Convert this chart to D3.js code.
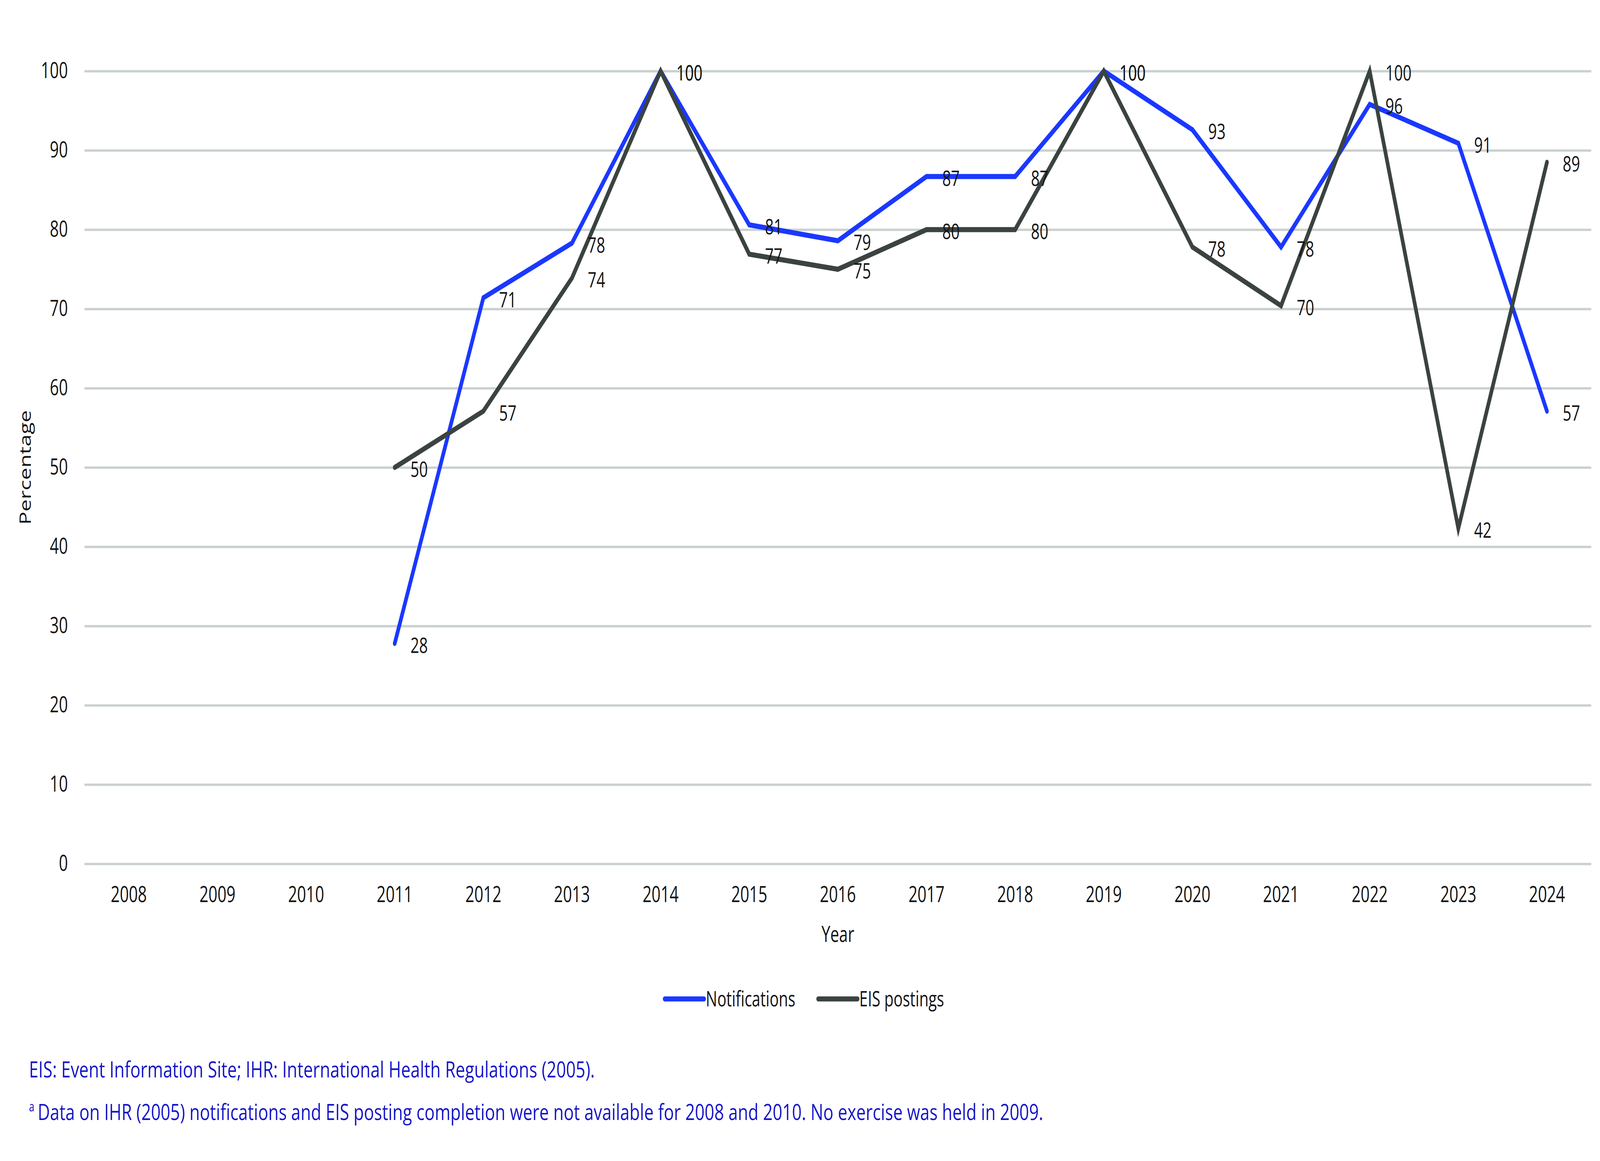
<!DOCTYPE html>
<html>
<head>
<meta charset="utf-8">
<script src="https://cdn.jsdelivr.net/npm/d3@7"></script>
<style>
  html, body { margin: 0; padding: 0; background: #fff; overflow: hidden; }
  svg { display: block; width: 100vw; height: 100vh; }
</style>
</head>
<body>
<svg id="chart" viewBox="0 0 5681 2973" preserveAspectRatio="none"></svg>
<script>
// data
var years = ['2008', '2009', '2010', '2011', '2012', '2013', '2014', '2015', '2016', '2017', '2018', '2019', '2020', '2021', '2022', '2023', '2024'];
var notifications = [null, null, null, 27.8, 71.4, 78.3, 100, 80.6, 78.6, 86.7, 86.7, 100, 92.6, 77.8, 95.8, 90.9, 57.1];
var eisPostings = [null, null, null, 50, 57.1, 73.9, 100, 76.9, 75, 80, 80, 100, 77.8, 70.4, 100, 42.3, 88.5];
var yTicks = [0, 10, 20, 30, 40, 50, 60, 70, 80, 90, 100];
var seriesNames = ['Notifications', 'EIS postings'];
var seriesColors = ['#1a38ff', '#3b4341'];

var notes = [
    'EIS: Event Information Site; IHR: International Health Regulations (2005).',
    'Data on IHR (2005) notifications and EIS posting completion were not available for 2008 and 2010. No exercise was held in 2009.'
];

const svg = d3.select('#chart');
const font = '"Open Sans", "Noto Sans", sans-serif';
const textColor = '#141414';

const plotLeft = 300, plotRight = 5650, plotTop = 182, plotBottom = 2212;

const x = d3.scaleBand()
    .domain(years)
    .range([plotLeft, plotRight]);

const y = d3.scaleLinear()
    .domain([0, 100])
    .range([plotBottom, plotTop]);

// gridlines + y labels
const yAxis = svg.append('g')
    .attr('transform', `translate(${plotLeft},0)`)
    .call(d3.axisLeft(y).tickValues(yTicks).tickSize(-(plotRight - plotLeft)).tickPadding(59));
yAxis.select('.domain').remove();
yAxis.selectAll('line')
    .attr('stroke', '#c9d1cf')
    .attr('stroke-width', 6);
yAxis.selectAll('text')
    .attr('font-family', font)
    .attr('font-size', 56)
    .attr('fill', textColor);

// year labels
const xAxis = svg.append('g')
    .attr('transform', `translate(0,${plotBottom})`)
    .call(d3.axisBottom(x).tickSize(0).tickPadding(58));
xAxis.select('.domain').remove();
xAxis.selectAll('text')
    .attr('font-family', font)
    .attr('font-size', 56)
    .attr('fill', textColor);

// axis titles
svg.append('text')
    .attr('x', (plotLeft + plotRight) / 2)
    .attr('y', 2412)
    .attr('text-anchor', 'middle')
    .attr('font-family', font)
    .attr('font-size', 56)
    .attr('fill', textColor)
    .text('Year');

svg.append('text')
    .attr('transform', `translate(110,${(plotTop + plotBottom) / 2}) rotate(-90)`)
    .attr('text-anchor', 'middle')
    .attr('font-family', font)
    .attr('font-size', 56)
    .attr('fill', textColor)
    .text('Percentage');

// lines
const allSeries = [notifications, eisPostings];
const line = d3.line()
    .defined(function(d) { return d.v !== null; })
    .x(function(d) { return x(d.year) + x.bandwidth() / 2; })
    .y(function(d) { return y(d.v); });

allSeries.forEach(function(values, i) {
    const pts = years.map(function(yr, j) { return { year: yr, v: values[j] }; });
    svg.append('path')
        .datum(pts)
        .attr('d', line)
        .attr('fill', 'none')
        .attr('stroke', seriesColors[i])
        .attr('stroke-width', 13)
        .attr('stroke-linejoin', 'miter')
        .attr('stroke-linecap', 'round');
});

// value labels
allSeries.forEach(function(values, i) {
    const pts = years.map(function(yr, j) { return { year: yr, v: values[j] }; })
        .filter(function(d) { return d.v !== null; });
    svg.append('g').selectAll('text')
        .data(pts)
        .enter()
        .append('text')
        .attr('x', function(d) { return x(d.year) + x.bandwidth() / 2 + 56; })
        .attr('y', function(d) { return y(d.v) + 24; })
        .attr('font-family', font)
        .attr('font-size', 54)
        .attr('fill', textColor)
        .text(function(d) { return Math.round(d.v); });
});

// legend
const legendX = [2360, 2905];
seriesNames.forEach(function(name, i) {
    svg.append('line')
        .attr('x1', legendX[i])
        .attr('x2', legendX[i] + 140)
        .attr('y1', 2558)
        .attr('y2', 2558)
        .attr('stroke', seriesColors[i])
        .attr('stroke-width', 13)
        .attr('stroke-linecap', 'round');
    svg.append('text')
        .attr('x', legendX[i] + 146)
        .attr('y', 2577)
        .attr('font-family', font)
        .attr('font-size', 54)
        .attr('fill', textColor)
        .text(name);
});

// footnotes
svg.append('text')
    .attr('x', 103)
    .attr('y', 2759)
    .attr('font-family', font)
    .attr('font-size', 56)
    .attr('fill', '#1515c8')
    .attr('textLength', 2009)
    .attr('lengthAdjust', 'spacingAndGlyphs')
    .text(notes[0]);

svg.append('text')
    .attr('x', 103)
    .attr('y', 2846)
    .attr('font-family', font)
    .attr('font-size', 34)
    .attr('fill', '#1515c8')
    .text('a');

svg.append('text')
    .attr('x', 134)
    .attr('y', 2868)
    .attr('font-family', font)
    .attr('font-size', 56)
    .attr('fill', '#1515c8')
    .attr('textLength', 3570)
    .attr('lengthAdjust', 'spacingAndGlyphs')
    .text(notes[1]);
</script>
</body>
</html>
